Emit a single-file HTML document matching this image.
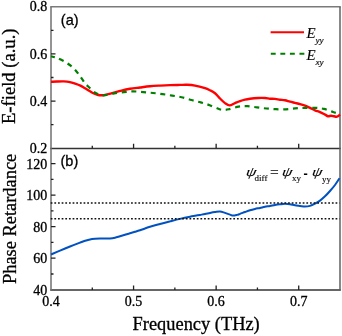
<!DOCTYPE html>
<html><head><meta charset="utf-8"><style>
html,body{margin:0;padding:0;background:#fff;}
body{width:342px;height:336px;overflow:hidden;position:relative;}
svg{position:absolute;left:0;top:0;}
.t{filter:grayscale(1);position:absolute;font-family:"Liberation Serif",serif;color:#000;-webkit-text-stroke:0.3px #000;white-space:nowrap;line-height:1;}
.s{font-family:"Liberation Sans",sans-serif;}
.yl{text-align:right;width:30px;font-size:14px;}
.xl{text-align:center;width:40px;font-size:14px;}
.rot{transform-origin:0 0;transform:rotate(-90deg);font-size:18px;}
i{font-style:italic;}
sub{font-size:10px;vertical-align:baseline;position:relative;}
</style></head><body>
<svg width="342" height="336" viewBox="0 0 342 336">
<line x1="50.25" y1="6.75" x2="340.75" y2="6.75" stroke="#7a7a7a" stroke-width="1.5"/>
<line x1="50.25" y1="148.40" x2="340.75" y2="148.40" stroke="#333" stroke-width="1.5"/>
<line x1="50.25" y1="290.05" x2="340.75" y2="290.05" stroke="#333" stroke-width="1.5"/>
<line x1="51.00" y1="6.75" x2="51.00" y2="290.55" stroke="#707070" stroke-width="1.5"/>
<line x1="340.00" y1="6.75" x2="340.00" y2="290.55" stroke="#606060" stroke-width="1.5"/>
<path d="M51.00,30.33h2.50M51.00,53.92h4.50M51.00,77.50h2.50M51.00,101.08h4.50M51.00,124.67h2.50M51.00,273.98h2.50M51.00,258.21h4.50M51.00,242.44h2.50M51.00,226.68h4.50M51.00,210.91h2.50M51.00,195.14h4.50M51.00,179.37h2.50M51.00,163.60h4.50M92.29,148.25v-2.50M92.29,290.05v-2.50M133.57,148.25v-4.50M133.57,290.05v-4.50M174.86,148.25v-2.50M174.86,290.05v-2.50M216.14,148.25v-4.50M216.14,290.05v-4.50M257.43,148.25v-2.50M257.43,290.05v-2.50M298.71,148.25v-4.50M298.71,290.05v-4.50" stroke="#222" stroke-width="1.3" fill="none"/>
<path d="M51.00,254.50 C52.50,253.85 56.83,251.93 60.00,250.60 C63.17,249.27 66.67,247.83 70.00,246.50 C73.33,245.17 77.50,243.55 80.00,242.60 C82.50,241.65 83.33,241.33 85.00,240.80 C86.67,240.27 88.33,239.73 90.00,239.40 C91.67,239.07 93.33,238.93 95.00,238.80 C96.67,238.67 98.33,238.63 100.00,238.60 C101.67,238.57 103.33,238.62 105.00,238.60 C106.67,238.58 108.33,238.65 110.00,238.50 C111.67,238.35 113.33,238.08 115.00,237.70 C116.67,237.32 118.33,236.70 120.00,236.20 C121.67,235.70 123.33,235.20 125.00,234.70 C126.67,234.20 128.33,233.68 130.00,233.20 C131.67,232.72 133.33,232.28 135.00,231.80 C136.67,231.32 137.50,231.13 140.00,230.30 C142.50,229.47 146.67,227.85 150.00,226.80 C153.33,225.75 156.67,224.90 160.00,224.00 C163.33,223.10 166.67,222.25 170.00,221.40 C173.33,220.55 176.67,219.68 180.00,218.90 C183.33,218.12 187.50,217.22 190.00,216.70 C192.50,216.18 193.33,216.10 195.00,215.80 C196.67,215.50 198.33,215.20 200.00,214.90 C201.67,214.60 203.33,214.33 205.00,214.00 C206.67,213.67 208.33,213.23 210.00,212.90 C211.67,212.57 213.33,212.25 215.00,212.00 C216.67,211.75 218.33,211.25 220.00,211.40 C221.67,211.55 223.33,212.37 225.00,212.90 C226.67,213.43 228.67,214.15 230.00,214.60 C231.33,215.05 231.83,215.55 233.00,215.60 C234.17,215.65 235.83,215.18 237.00,214.90 C238.17,214.62 238.67,214.38 240.00,213.90 C241.33,213.42 243.33,212.62 245.00,212.00 C246.67,211.38 248.33,210.72 250.00,210.20 C251.67,209.68 253.33,209.28 255.00,208.90 C256.67,208.52 258.33,208.25 260.00,207.90 C261.67,207.55 263.33,207.12 265.00,206.80 C266.67,206.48 268.33,206.30 270.00,206.00 C271.67,205.70 273.33,205.28 275.00,205.00 C276.67,204.72 278.33,204.50 280.00,204.30 C281.67,204.10 283.33,203.80 285.00,203.80 C286.67,203.80 288.33,204.05 290.00,204.30 C291.67,204.55 293.33,205.03 295.00,205.30 C296.67,205.57 298.33,205.70 300.00,205.90 C301.67,206.10 303.33,206.50 305.00,206.50 C306.67,206.50 308.33,206.37 310.00,205.90 C311.67,205.43 313.33,204.58 315.00,203.70 C316.67,202.82 318.33,201.83 320.00,200.60 C321.67,199.37 323.33,197.90 325.00,196.30 C326.67,194.70 328.33,192.88 330.00,191.00 C331.67,189.12 333.42,187.12 335.00,185.00 C336.58,182.88 338.75,179.42 339.50,178.30" stroke="#0052c0" stroke-width="2" fill="none"/>
<line x1="50.70" y1="203.02" x2="339.50" y2="203.02" stroke="#111" stroke-width="1.5" stroke-dasharray="1.75 1.902"/>
<line x1="50.70" y1="218.79" x2="339.50" y2="218.79" stroke="#111" stroke-width="1.5" stroke-dasharray="1.75 1.902"/>
<path d="M51.00,81.80 C52.00,81.75 54.87,81.57 57.00,81.50 C59.13,81.43 61.65,81.30 63.80,81.40 C65.95,81.50 68.00,81.72 69.90,82.10 C71.80,82.48 73.45,83.10 75.20,83.70 C76.95,84.30 78.77,84.93 80.40,85.70 C82.03,86.47 83.02,87.13 85.00,88.30 C86.98,89.47 90.10,91.58 92.30,92.70 C94.50,93.82 96.25,94.60 98.20,95.00 C100.15,95.40 101.82,95.37 104.00,95.10 C106.18,94.83 108.38,94.15 111.30,93.40 C114.22,92.65 118.38,91.37 121.50,90.60 C124.62,89.83 126.92,89.32 130.00,88.80 C133.08,88.28 136.67,87.92 140.00,87.50 C143.33,87.08 146.67,86.62 150.00,86.30 C153.33,85.98 156.67,85.80 160.00,85.60 C163.33,85.40 166.67,85.22 170.00,85.10 C173.33,84.98 177.17,84.95 180.00,84.90 C182.83,84.85 184.50,84.68 187.00,84.80 C189.50,84.92 192.00,85.03 195.00,85.60 C198.00,86.17 202.50,87.42 205.00,88.20 C207.50,88.98 208.33,89.47 210.00,90.30 C211.67,91.13 213.33,91.83 215.00,93.20 C216.67,94.57 218.33,96.85 220.00,98.50 C221.67,100.15 223.40,101.95 225.00,103.10 C226.60,104.25 227.93,105.40 229.60,105.40 C231.27,105.40 233.27,103.82 235.00,103.10 C236.73,102.38 238.33,101.68 240.00,101.10 C241.67,100.52 243.33,100.00 245.00,99.60 C246.67,99.20 247.83,98.97 250.00,98.70 C252.17,98.43 255.50,98.12 258.00,98.00 C260.50,97.88 263.00,97.88 265.00,98.00 C267.00,98.12 268.33,98.55 270.00,98.70 C271.67,98.85 273.33,98.73 275.00,98.90 C276.67,99.07 278.33,99.47 280.00,99.70 C281.67,99.93 283.33,99.97 285.00,100.30 C286.67,100.63 288.33,101.27 290.00,101.70 C291.67,102.13 293.33,102.50 295.00,102.90 C296.67,103.30 298.33,103.63 300.00,104.10 C301.67,104.57 303.33,105.08 305.00,105.70 C306.67,106.32 308.33,107.03 310.00,107.80 C311.67,108.57 313.33,109.58 315.00,110.30 C316.67,111.02 318.33,111.38 320.00,112.10 C321.67,112.82 323.67,113.92 325.00,114.60 C326.33,115.28 327.00,116.00 328.00,116.20 C329.00,116.40 330.00,115.78 331.00,115.80 C332.00,115.82 333.00,116.15 334.00,116.30 C335.00,116.45 336.00,116.98 337.00,116.70 C338.00,116.42 339.50,114.95 340.00,114.60" stroke="#ff0000" stroke-width="2.4" fill="none"/>
<path d="M51.00,56.20 C51.83,56.43 54.50,57.10 56.00,57.60 C57.50,58.10 58.17,58.28 60.00,59.20 C61.83,60.12 64.67,61.53 67.00,63.10 C69.33,64.67 71.83,66.45 74.00,68.60 C76.17,70.75 78.17,73.57 80.00,76.00 C81.83,78.43 83.50,81.33 85.00,83.20 C86.50,85.07 87.30,85.62 89.00,87.20 C90.70,88.78 93.20,91.38 95.20,92.70 C97.20,94.02 99.28,94.70 101.00,95.10 C102.72,95.50 103.30,95.38 105.50,95.10 C107.70,94.82 111.17,93.88 114.20,93.40 C117.23,92.92 120.57,92.53 123.70,92.20 C126.83,91.87 129.75,91.42 133.00,91.40 C136.25,91.38 139.87,91.83 143.20,92.10 C146.53,92.37 149.77,92.67 153.00,93.00 C156.23,93.33 159.40,93.67 162.60,94.10 C165.80,94.53 169.05,95.08 172.20,95.60 C175.35,96.12 178.30,96.47 181.50,97.20 C184.70,97.93 188.20,99.13 191.40,100.00 C194.60,100.87 197.65,101.53 200.70,102.40 C203.75,103.27 206.73,104.13 209.70,105.20 C212.67,106.27 216.28,108.00 218.50,108.80 C220.72,109.60 221.28,109.92 223.00,110.00 C224.72,110.08 226.20,109.87 228.80,109.30 C231.40,108.73 235.48,107.12 238.60,106.60 C241.72,106.08 244.43,106.07 247.50,106.20 C250.57,106.33 253.83,107.02 257.00,107.40 C260.17,107.78 263.33,108.20 266.50,108.50 C269.67,108.80 272.75,109.07 276.00,109.20 C279.25,109.33 282.83,109.43 286.00,109.30 C289.17,109.17 292.23,108.62 295.00,108.40 C297.77,108.18 299.37,108.10 302.60,108.00 C305.83,107.90 310.83,107.65 314.40,107.80 C317.97,107.95 320.90,108.20 324.00,108.90 C327.10,109.60 330.33,111.12 333.00,112.00 C335.67,112.88 338.83,113.83 340.00,114.20" stroke="#008000" stroke-width="2.2" fill="none" stroke-dasharray="5 4.674" stroke-dashoffset="1.08"/>
<line x1="270.6" y1="32.25" x2="304" y2="32.25" stroke="#ff0000" stroke-width="2.2"/>
<line x1="270.8" y1="53.8" x2="305" y2="53.8" stroke="#008000" stroke-width="2.1" stroke-dasharray="4.9 4.65"/>
</svg>
<div class="t yl" style="left:17.3px;top:0.3px">0.8</div>
<div class="t yl" style="left:17.3px;top:47.9px">0.6</div>
<div class="t yl" style="left:17.3px;top:95.1px">0.4</div>
<div class="t yl" style="left:17.3px;top:142.3px">0.2</div>
<div class="t yl" style="left:17.3px;top:157.6px">120</div>
<div class="t yl" style="left:17.3px;top:189.1px">100</div>
<div class="t yl" style="left:17.3px;top:220.7px">80</div>
<div class="t yl" style="left:17.3px;top:252.2px">60</div>
<div class="t yl" style="left:17.3px;top:283.8px">40</div>
<div class="t xl" style="left:31.0px;top:294.5px">0.4</div>
<div class="t xl" style="left:113.6px;top:294.5px">0.5</div>
<div class="t xl" style="left:196.1px;top:294.5px">0.6</div>
<div class="t xl" style="left:278.7px;top:294.5px">0.7</div>
<div class="t" style="left:132.6px;top:315.3px;font-size:18.4px">Frequency (THz)</div>
<div class="t rot" style="left:0.3px;top:124.2px;font-size:18.6px">E-field (a.u.)</div>
<div class="t rot" style="left:1.2px;top:284.2px;font-size:18.4px">Phase Retardance</div>
<div class="t s" style="left:60.8px;top:12.8px;font-size:14.5px">(a)</div>
<div class="t s" style="left:60.5px;top:154.3px;font-size:14.5px">(b)</div>
<div class="t" style="left:306.4px;top:25.7px;font-size:15px;-webkit-text-stroke:0.1px #000"><i>E</i></div>
<div class="t" style="left:315.4px;top:36.0px;font-size:9.2px;-webkit-text-stroke:0.15px #000"><i>yy</i></div>
<div class="t" style="left:306.4px;top:47.5px;font-size:15px;-webkit-text-stroke:0.1px #000"><i>E</i></div>
<div class="t" style="left:315.4px;top:57.5px;font-size:9.2px;-webkit-text-stroke:0.15px #000"><i>xy</i></div>
<div class="t" style="left:244.8px;top:165.3px;font-size:13.2px;font-family:'Liberation Serif',serif;-webkit-text-stroke:0.12px #000;font-style:italic;transform-origin:0 100%;transform:scaleX(1.25) skewX(-8deg);">&#968;</div>
<div class="t" style="left:254.6px;top:174.1px;font-size:9.0px;font-family:'Liberation Serif',serif;-webkit-text-stroke:0.12px #000;">diff</div>
<div class="t" style="left:270.0px;top:164.2px;font-size:15.5px;font-family:'Liberation Serif',serif;-webkit-text-stroke:0.12px #000;">=</div>
<div class="t" style="left:281.4px;top:165.3px;font-size:13.2px;font-family:'Liberation Serif',serif;-webkit-text-stroke:0.12px #000;font-style:italic;transform-origin:0 100%;transform:scaleX(1.25) skewX(-8deg);">&#968;</div>
<div class="t" style="left:292.0px;top:173.5px;font-size:9.0px;font-family:'Liberation Serif',serif;-webkit-text-stroke:0.12px #000;">xy</div>
<div class="t" style="left:303.6px;top:167.5px;font-size:12.5px;font-family:'Liberation Sans',sans-serif;-webkit-text-stroke:0.12px #000;font-weight:bold;">-</div>
<div class="t" style="left:311.2px;top:165.3px;font-size:13.2px;font-family:'Liberation Serif',serif;-webkit-text-stroke:0.12px #000;font-style:italic;transform-origin:0 100%;transform:scaleX(1.25) skewX(-8deg);">&#968;</div>
<div class="t" style="left:322.0px;top:174.9px;font-size:9.0px;font-family:'Liberation Serif',serif;-webkit-text-stroke:0.12px #000;">yy</div>
</body></html>
